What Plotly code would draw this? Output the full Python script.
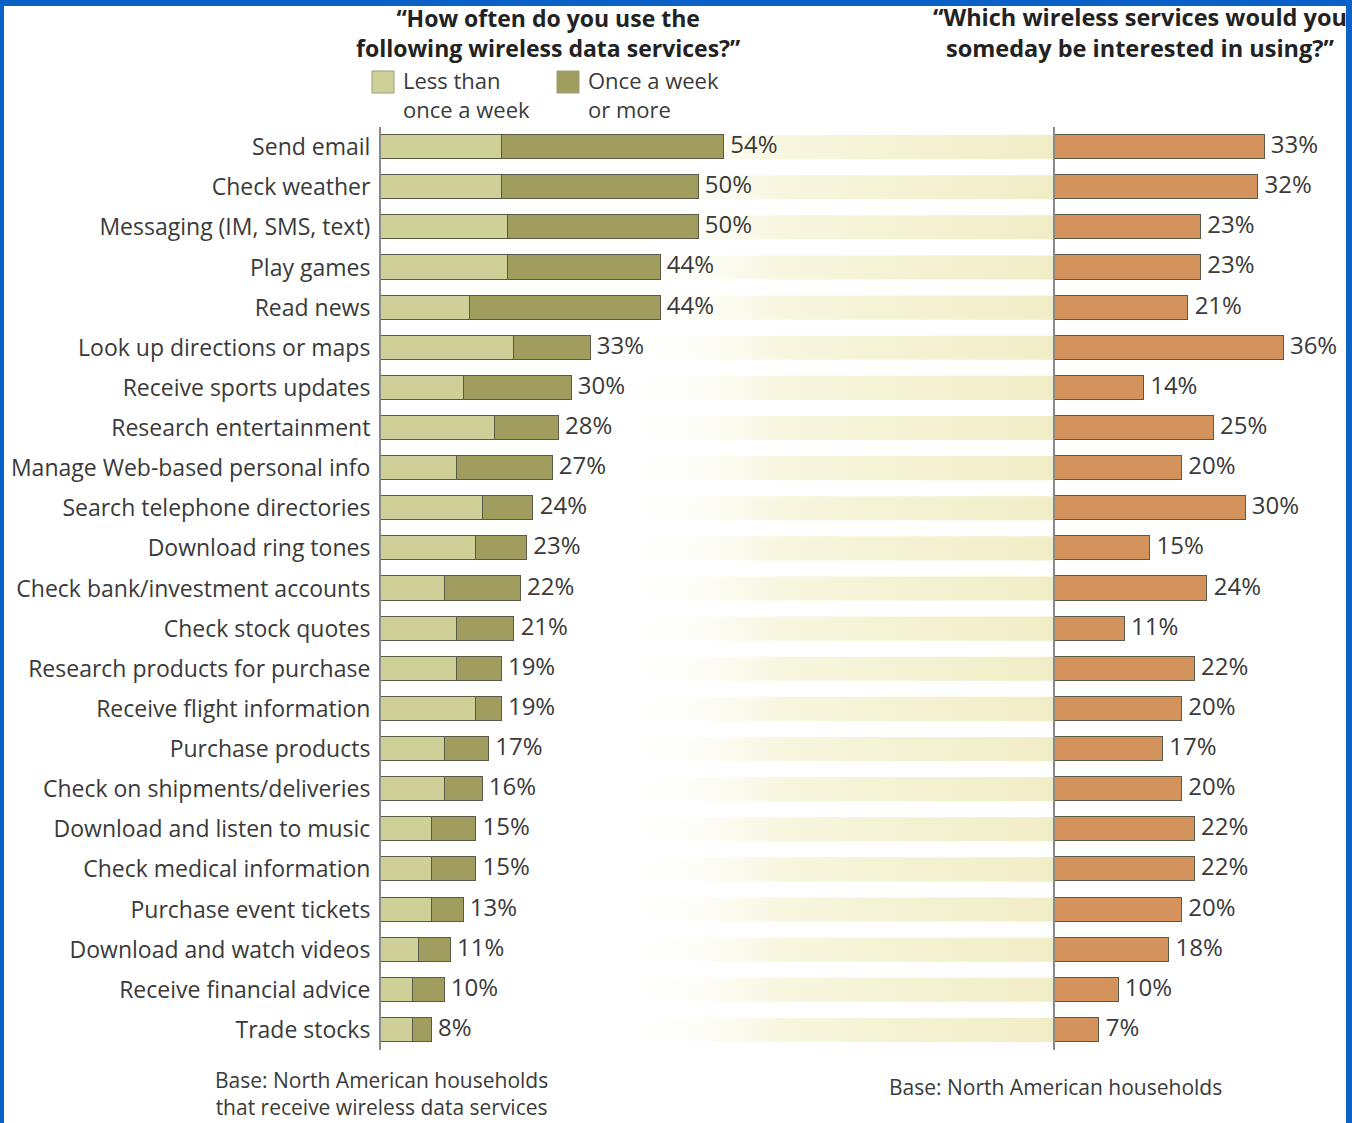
import plotly.graph_objects as go

W, H = 1352, 1123

categories = [
    "Send email", "Check weather", "Messaging (IM, SMS, text)", "Play games", "Read news",
    "Look up directions or maps", "Receive sports updates", "Research entertainment",
    "Manage Web-based personal info", "Search telephone directories", "Download ring tones",
    "Check bank/investment accounts", "Check stock quotes", "Research products for purchase",
    "Receive flight information", "Purchase products", "Check on shipments/deliveries",
    "Download and listen to music", "Check medical information", "Purchase event tickets",
    "Download and watch videos", "Receive financial advice", "Trade stocks",
]
less_than_weekly = [19, 19, 20, 20, 14, 21, 13, 18, 12, 16, 15, 10, 12, 12, 15, 10, 10, 8, 8, 8, 6, 5, 5]
weekly_or_more = [35, 31, 30, 24, 30, 12, 17, 10, 15, 8, 8, 12, 9, 7, 4, 7, 6, 7, 7, 5, 5, 5, 3]
usage_total = [54, 50, 50, 44, 44, 33, 30, 28, 27, 24, 23, 22, 21, 19, 19, 17, 16, 15, 15, 13, 11, 10, 8]
interested = [33, 32, 23, 23, 21, 36, 14, 25, 20, 30, 15, 24, 11, 22, 20, 17, 20, 22, 22, 20, 18, 10, 7]

legend_names = ["Less than<br>once a week", "Once a week<br>or more"]
title_left = "\u201cHow often do you use the<br>following wireless data services?\u201d"
title_right = "\u201cWhich wireless services would you<br>someday be interested in using?\u201d"
note_left = "Base: North American households<br>that receive wireless data services"
note_right = "Base: North American households"

C_LIGHT = "#cfcf98"
C_DARK = "#a19d5f"
C_ORANGE = "#d4925c"
C_EDGE = "#5a5a48"
C_TEXT = "#3a3a3a"
BLUE = "#0a62c8"
FONT = "Open Sans"

def px(x):
    return x / W

def py(y):
    return 1 - y / H

n = len(categories)
ypos = list(range(n))
BAR_W = 0.6
LEFT_MAX = 106.1
RIGHT_MAX = 46

fig = go.Figure()

# gradient band behind rows (base subplot, drawn under the bars)
bx, by = [], []
for i in ypos:
    bx += [0, LEFT_MAX, LEFT_MAX, 0, 0, None]
    by += [i - BAR_W / 2, i - BAR_W / 2, i + BAR_W / 2, i + BAR_W / 2, i - BAR_W / 2, None]
fig.add_trace(go.Scatter(
    x=bx, y=by, mode="lines", fill="toself", line=dict(width=0),
    fillgradient=dict(type="horizontal", start=0, stop=LEFT_MAX,
                      colorscale=[[0, "rgba(255,255,255,0)"], [0.34, "rgba(255,255,255,0)"],
                                  [0.6, "rgb(248,246,222)"], [1, "rgb(240,237,198)"]]),
    hoverinfo="skip", showlegend=False, xaxis="x", yaxis="y"))

fig.add_trace(go.Bar(
    y=ypos, x=less_than_weekly, orientation="h", width=BAR_W, name=legend_names[0],
    marker=dict(color=C_LIGHT, line=dict(color=C_EDGE, width=1)), showlegend=False,
    xaxis="x3", yaxis="y3"))
fig.add_trace(go.Bar(
    y=ypos, x=weekly_or_more, orientation="h", width=BAR_W, name=legend_names[1],
    marker=dict(color=C_DARK, line=dict(color=C_EDGE, width=1)), showlegend=False,
    xaxis="x3", yaxis="y3"))
fig.add_trace(go.Scatter(
    y=ypos, x=usage_total, mode="text", text=[f"\u00a0{v}%" for v in usage_total],
    textposition="middle right", textfont=dict(family=FONT, size=24, color=C_TEXT),
    showlegend=False, hoverinfo="skip", xaxis="x3", yaxis="y3"))

fig.add_trace(go.Bar(
    y=ypos, x=interested, orientation="h", width=BAR_W,
    marker=dict(color=C_ORANGE, line=dict(color=C_EDGE, width=1)), showlegend=False,
    xaxis="x2", yaxis="y2"))
fig.add_trace(go.Scatter(
    y=ypos, x=interested, mode="text", text=[f"\u00a0{v}%" for v in interested],
    textposition="middle right", textfont=dict(family=FONT, size=24, color=C_TEXT),
    showlegend=False, hoverinfo="skip", xaxis="x2", yaxis="y2"))

left0, right0 = 381, 1055
scale = (right0 - left0) / LEFT_MAX
right_end = right0 + RIGHT_MAX * scale
ytop, ybot = 127, 1050
ydom = [py(ybot), py(ytop)]
yrange = [n - 0.5, -0.5]

fig.update_layout(
    width=W, height=H, margin=dict(l=0, r=0, t=0, b=0, autoexpand=False),
    paper_bgcolor="white", plot_bgcolor="rgba(0,0,0,0)",
    barmode="stack", bargap=0, showlegend=False,
    font=dict(family=FONT, color=C_TEXT),
    xaxis=dict(domain=[px(left0), px(right0)], range=[0, LEFT_MAX], visible=False, automargin=False),
    xaxis3=dict(domain=[px(left0), px(right0)], range=[0, LEFT_MAX], visible=False,
                overlaying="x", anchor="y3", automargin=False),
    xaxis2=dict(domain=[px(right0), min(px(right_end), 1)], range=[0, RIGHT_MAX], visible=False,
                anchor="y2", automargin=False),
    yaxis=dict(domain=ydom, range=yrange, tickvals=ypos, ticktext=categories,
               showgrid=False, zeroline=False, showline=True, linecolor="#8a8a8a", linewidth=2,
               ticks="", ticklabelstandoff=4, tickfont=dict(family=FONT, size=23, color=C_TEXT),
               anchor="x", automargin=False),
    yaxis3=dict(domain=ydom, range=yrange, showticklabels=False, showgrid=False, zeroline=False,
                showline=False, overlaying="y", anchor="x3", automargin=False),
    yaxis2=dict(domain=ydom, range=yrange, showticklabels=False,
                showgrid=False, zeroline=False, showline=True, linecolor="#8a8a8a", linewidth=2,
                ticks="", anchor="x2", automargin=False),
)

def add_text(text, cx, cy, size, xanchor="center", align="center", bold=False, color=C_TEXT):
    t = "<br>".join(f"<b>{s}</b>" for s in text.split("<br>")) if bold else text
    fig.add_annotation(x=px(cx), y=py(cy), xref="paper", yref="paper", text=t,
                       xanchor=xanchor, yanchor="middle", align=align, showarrow=False,
                       font=dict(family=FONT, size=size, color=color))

# titles
add_text(title_left, 548, 33, 23, bold=True, color="#222")
add_text(title_right, 1140, 33, 23.5, bold=True, color="#222")

# legend
for (sx, color, name) in [(372, C_LIGHT, legend_names[0]), (557, C_DARK, legend_names[1])]:
    fig.add_shape(type="rect", xref="paper", yref="paper", x0=px(sx), x1=px(sx + 22),
                  y0=py(93), y1=py(71), fillcolor=color, line=dict(color="#9a9a80", width=1))
    add_text(name, sx + 29, 95, 22, xanchor="left", align="left")

# footnotes
add_text(note_left, 381, 1093, 21)
add_text(note_right, 1055, 1087, 21)

# blue frame
fig.add_shape(type="rect", xref="paper", yref="paper", x0=0, x1=1, y0=py(6), y1=1,
              fillcolor=BLUE, line=dict(width=0), layer="above")
fig.add_shape(type="rect", xref="paper", yref="paper", x0=0, x1=px(4), y0=0, y1=1,
              fillcolor=BLUE, line=dict(width=0), layer="above")
fig.add_shape(type="rect", xref="paper", yref="paper", x0=px(1346), x1=1, y0=0, y1=1,
              fillcolor=BLUE, line=dict(width=0), layer="above")

fig.write_html("out.html")
